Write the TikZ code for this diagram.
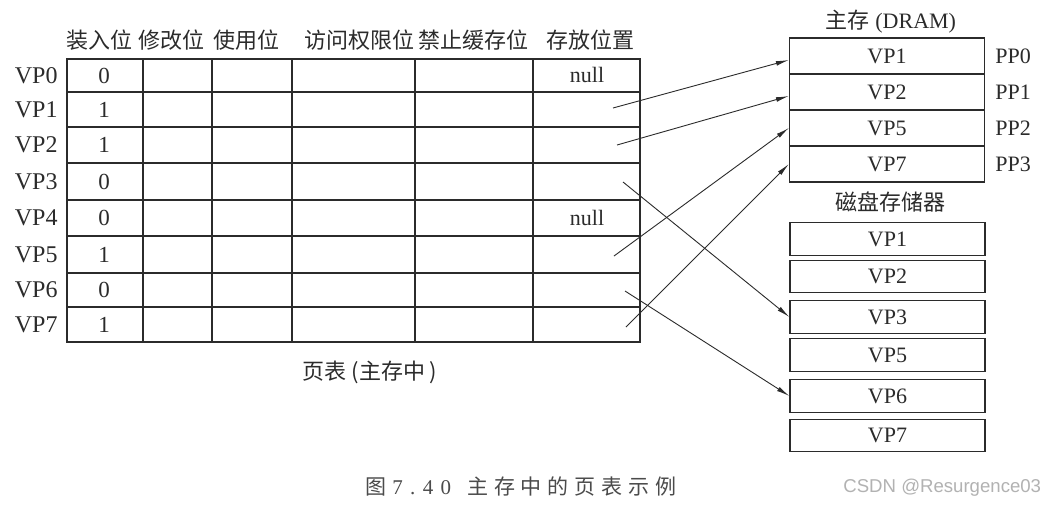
\documentclass[tikz,border=0pt]{standalone}
\usepackage{fontspec}
\setmainfont{Liberation Serif}
\newfontfamily\cjk{Noto Sans CJK SC}
\newfontfamily\capcjk{Noto Sans CJK SC}[LetterSpace=28]
\newfontfamily\capnum{Liberation Serif}[LetterSpace=35]
\newfontfamily\wmfont{Liberation Sans}
\usetikzlibrary{arrows.meta}
\definecolor{ink}{HTML}{2B2B2B}
\begin{document}
\begin{tikzpicture}[x=0.5pt,y=-0.5pt,
	every node/.style={inner sep=0,text=ink},
	tbl/.style={draw=ink,line width=0.6pt},
	cell/.style={draw=ink,line width=0.6pt,minimum width=97.5pt,font=\fontsize{11}{13}\selectfont},
	ptr/.style={draw=ink,line width=0.45pt,-{Latex[length=6.5pt,width=2.4pt]}},
	head/.style={font=\cjk\fontsize{11}{13}\selectfont},
	lbl/.style={font=\fontsize{11}{13}\selectfont}]
\path[use as bounding box,fill=white] (0,0) rectangle (1046,515);
\draw[tbl] (67,59) rectangle (640,342);
\foreach \x in {143,212,292,415,533} \draw[tbl] (\x,59) -- (\x,342);
\foreach \y in {92,127,163,200,236,273,307} \draw[tbl] (67,\y) -- (640,\y);
\foreach \x/\t [count=\k] in {99.5/装入位,171.5/修改位,246.5/使用位,359/访问权限位,473/禁止缓存位,590/存放位置}
	\node[head] (head\k) at (\x,40) {\t};
\foreach \n/\y/\b in {0/75.5/0,1/109.5/1,2/145/1,3/181.5/0,4/218/0,5/254.5/1,6/290/0,7/324.5/1} {
	\node[anchor=east,font=\fontsize{12}{14}\selectfont] (vp\n) at (58,\y) {VP\n};
	\node[font=\fontsize{11.5}{13}\selectfont] (bit\n) at (104,\y) {\b};
}
\node[lbl] (null0) at (587,75) {null};
\node[lbl] (null4) at (587,218) {null};
\coordinate (loc1) at (613,108);
\coordinate (loc2) at (617,145);
\coordinate (loc3) at (623,182);
\coordinate (loc5) at (614,256);
\coordinate (loc6) at (625,291);
\coordinate (loc7) at (626,327);
\node[head] (ptab) at (370,372) {页表 (主存中 )};
\node[lbl] (dram) at (891,22) {{\cjk 主存} (DRAM)};
\foreach \v/\y/\p in {1/56/0,2/92/1,5/128/2,7/164/3} {
	\node[cell,minimum height=18pt] (mem\v) at (887,\y) {VP\v};
	\node[lbl,anchor=west] (pp\p) at (995,\y) {PP\p};
}
\node[head] (disk) at (890,202) {磁盘存储器};
\foreach \v/\y in {1/239,2/276.5,3/317,5/355,6/396,7/435.5}
	\node[cell,minimum height=16.25pt] (dsk\v) at (887.5,\y) {VP\v};
\draw[ptr] (loc1) -- ([yshift=-2pt]mem1.west);
\draw[ptr] (loc2) -- ([yshift=-2pt]mem2.west);
\draw[ptr] (loc5) -- (mem5.west);
\draw[ptr] (loc7) -- (mem7.west);
\draw[ptr] (loc3) -- (dsk3.west);
\draw[ptr] (loc6) -- (dsk6.west);
\node[anchor=west,text=ink!85,font=\fontsize{10.5}{12}\selectfont] (cap) at (365,487)
	{{\capcjk 图}\hspace{3pt}{\capnum 7.40}\hspace{8pt}{\capcjk 主存中的页表示例}};
\node[anchor=west,text=black!30,font=\wmfont\fontsize{9.3}{11}\selectfont] (mark) at (843,488) {CSDN @Resurgence03};
\end{tikzpicture}
\end{document}
